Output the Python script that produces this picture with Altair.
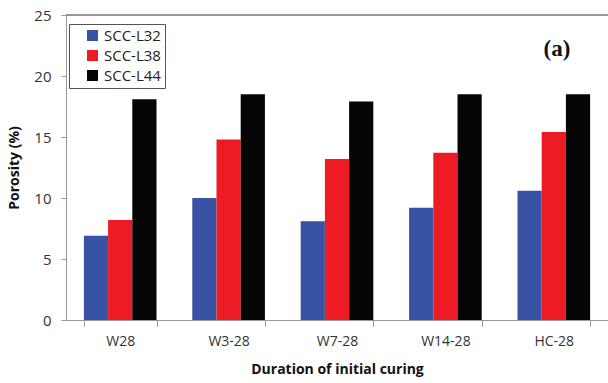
import altair as alt
import pandas as pd

categories = ["W28", "W3-28", "W7-28", "W14-28", "HC-28"]
series = ["SCC-L32", "SCC-L38", "SCC-L44"]
l32 = [6.9, 10.0, 8.1, 9.2, 10.6]
l38 = [8.2, 14.8, 13.2, 13.7, 15.4]
l44 = [18.1, 18.5, 17.9, 18.5, 18.5]
colors = ["#3953A4", "#ED1C24", "#050505"]

rows = []
for s, vals in zip(series, [l32, l38, l44]):
    for c, v in zip(categories, vals):
        rows.append({"cat": c, "series": s, "value": v})
df = pd.DataFrame(rows)

FONT = "Open Sans"

bars = alt.Chart(df).mark_bar().encode(
    x=alt.X("cat:N", sort=categories,
            scale=alt.Scale(paddingInner=0.33, paddingOuter=0.165),
            axis=alt.Axis(title="Duration of initial curing", labelAngle=0,
                          tickBand="extent", tickSize=6, tickColor="#999999",
                          domainColor="#999999", labelFont=FONT, labelFontSize=14,
                          labelColor="#333333", labelPadding=8,
                          titleFont=FONT, titleFontSize=14, titleFontWeight="bold",
                          titleColor="#111111", titlePadding=14)),
    xOffset=alt.XOffset("series:N", sort=series),
    y=alt.Y("value:Q", scale=alt.Scale(domain=[0, 25]),
            axis=alt.Axis(title="Porosity (%)", values=[0, 5, 10, 15, 20, 25],
                          grid=False, tickSize=5, tickColor="#999999",
                          domainColor="#999999", labelFont=FONT, labelFontSize=15,
                          labelColor="#333333", labelPadding=10,
                          titleFont=FONT, titleFontSize=14, titleFontWeight="bold",
                          titleColor="#111111", titlePadding=12)),
    color=alt.Color("series:N", sort=series,
                    scale=alt.Scale(domain=series, range=colors),
                    legend=alt.Legend(title=None, orient="none", legendX=3, legendY=9,
                                      symbolType="square", symbolSize=120,
                                      symbolStrokeWidth=0, symbolOffset=12,
                                      labelFont=FONT, labelFontSize=15,
                                      labelColor="#222222", rowPadding=4,
                                      strokeColor="#555555", padding=4,
                                      fillColor="white")),
)

top = alt.Chart(pd.DataFrame({"y": [25]})).mark_rule(color="#333333", strokeWidth=1.2).encode(
    y=alt.Y("y:Q", scale=alt.Scale(domain=[0, 25])))

label = alt.Chart(pd.DataFrame({"t": ["(a)"]})).mark_text(
    font="Liberation Serif", fontSize=23, fontWeight="bold", color="#111111"
).encode(text="t:N", x=alt.value(491), y=alt.value(34))

chart = alt.layer(bars, top, label).properties(
    width=542, height=305,
    autosize=alt.AutoSizeParams(type="none"),
    padding={"left": 66, "top": 15, "right": 0, "bottom": 63},
).configure_view(stroke=None)

chart.save("out.html", embed_options={"renderer": "svg", "actions": False})
